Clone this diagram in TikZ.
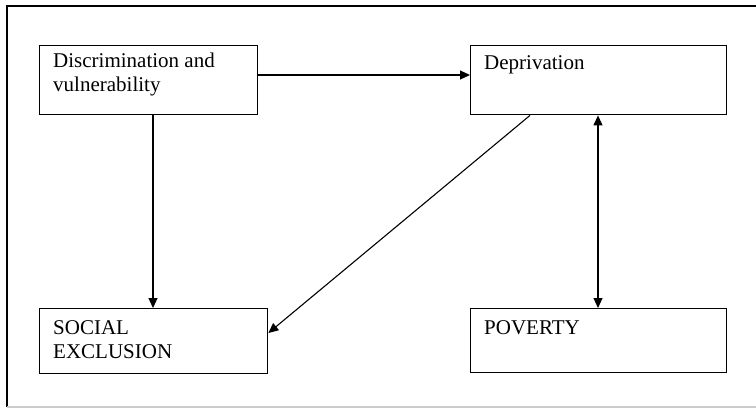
\documentclass[tikz,border=0pt]{standalone}
\usepackage{fontspec}
\setmainfont{Liberation Serif}
\usetikzlibrary{positioning,arrows.meta}

\begin{document}
\begin{tikzpicture}[x=1pt,y=-1pt,
                    every node/.style={font=\fontsize{21}{24}\selectfont},
                    box/.style={draw,line width=1.4pt,anchor=north west,
                                minimum width=218pt,minimum height=69pt,inner sep=0pt},
                    wide/.style={box,minimum width=256pt},
                    lbl/.style={align=left,inner sep=0pt,anchor=north west},
                    arr/.style={line width=1.1pt,-{Triangle[length=10pt,width=9pt]}},
                    dblarr/.style={arr,{Triangle[length=10pt,width=9pt]}-{Triangle[length=10pt,width=9pt]}}]
  \useasboundingbox (0,0) rectangle (756,408);
  % outer frame
  \draw[line width=1.3pt] (7,407) -- (7,6) -- (760,6);
  \draw[line width=1.3pt,black!20] (7,407) -- (760,407);

  \node[box]  (discr) at (39,45)   {};
  \node[wide] (depr)  at (470,45)  {};
  \node[box,minimum width=228pt,minimum height=65pt] (excl) at (39,308) {};
  \node[wide,minimum height=64pt] (pov) at (470,308) {};

  \node[lbl,below right=8pt and 14pt of discr.north west] {Discrimination and\\vulnerability};
  \node[lbl,below right=10pt and 14pt of depr.north west]  {Deprivation};
  \node[lbl,below right=12pt and 14pt of excl.north west]  {SOCIAL\\EXCLUSION};
  \node[lbl,below right=12pt and 14pt of pov.north west]   {POVERTY};

  \draw[arr] (discr.east |- 0,75) -- (depr.west |- 0,75);
  \draw[arr] (discr.south -| 153,0) -- (excl.north -| 153,0);
  \draw[arr] (depr.south -| 530,0) -- (excl.east |- 0,333);
  \draw[dblarr] (depr.south -| 598,0) -- (pov.north -| 598,0);
\end{tikzpicture}
\end{document}
